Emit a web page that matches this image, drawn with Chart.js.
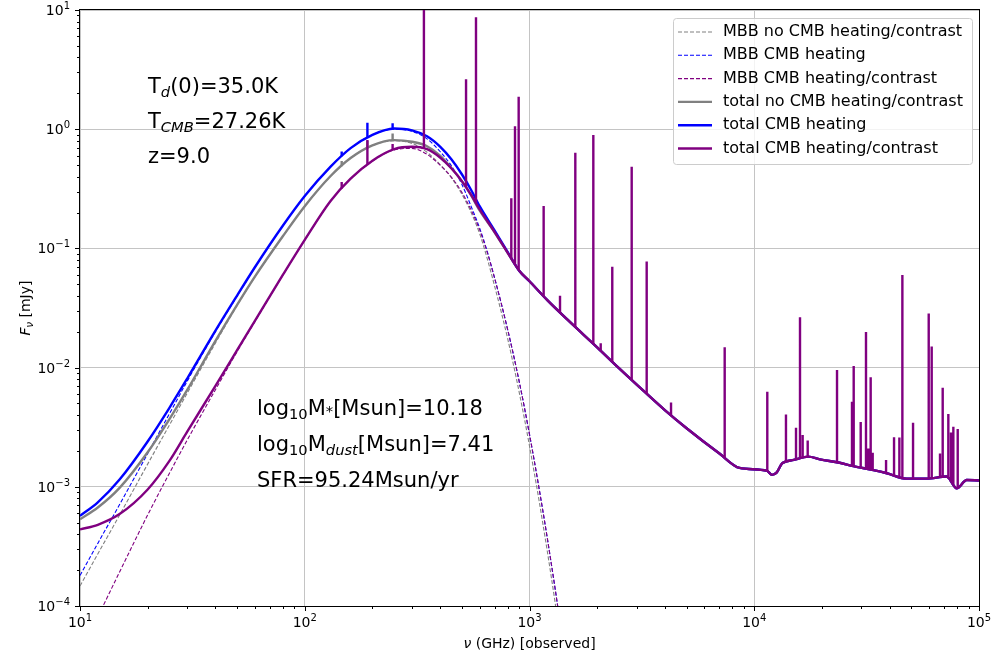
<!DOCTYPE html>
<html>
<head>
<meta charset="utf-8">
<script src="https://cdn.jsdelivr.net/npm/chart.js@4.4.0/dist/chart.umd.min.js"></script>
<style>
html, body { margin: 0; padding: 0; background: #fff; }
#wrap { width: 995px; height: 661px; }
</style>
</head>
<body>
<div id="wrap"><canvas id="sed" width="995" height="661"></canvas></div>
<script>
// axis ticks
var xTicks = [10, 100, 1000, 10000, 100000];
var yTicks = [1e-4, 1e-3, 1e-2, 1e-1, 1, 10];

// modified black body curves (GHz, mJy)
var mbbFreq = [10, 12, 15, 20, 25, 30, 40, 50, 60, 80, 100, 130, 160, 200, 250, 300, 350, 400, 450, 500, 550, 600, 650, 700, 750, 800, 850, 900, 950, 1000, 1050, 1100, 1150, 1200, 1250, 1300, 1350];
var mbbNoCmb = [1.47e-4, 2.73e-4, 5.8e-4, 1.55e-3, 3.3e-3, 6.1e-3, 0.016, 0.0332, 0.0576, 0.1266, 0.2256, 0.4022, 0.5725, 0.73, 0.80, 0.76, 0.64, 0.505, 0.39, 0.285, 0.20, 0.133, 0.081, 0.048, 0.0289, 0.0174, 0.0104, 6.2e-3, 3.7e-3, 2.2e-3, 1.31e-3, 7.9e-4, 4.75e-4, 2.88e-4, 1.75e-4, 1.07e-4, 6.5e-5];
var mbbCmbHeat = [1.8e-4, 3.35e-4, 7.1e-4, 1.9e-3, 4.1e-3, 7.7e-3, 0.0199, 0.0398, 0.0691, 0.1551, 0.2746, 0.4826, 0.6936, 0.8965, 1.0, 0.96, 0.83, 0.65, 0.49, 0.345, 0.225, 0.148, 0.093, 0.056, 0.0341, 0.02075, 0.01262, 7.63e-3, 4.59e-3, 2.75e-3, 1.656e-3, 1.0e-3, 6.08e-4, 3.71e-4, 2.27e-4, 1.4e-4, 8.6e-5];
var mbbCmbContrast = [4.0e-5, 8.1e-5, 1.93e-4, 5.8e-4, 1.3e-3, 2.47e-3, 6.5e-3, 0.0136, 0.0243, 0.0598, 0.1176, 0.248, 0.383, 0.54, 0.67, 0.69, 0.615, 0.50, 0.395, 0.295, 0.21, 0.143, 0.0913, 0.056, 0.0341, 0.02075, 0.01262, 7.63e-3, 4.59e-3, 2.75e-3, 1.656e-3, 1.0e-3, 6.08e-4, 3.71e-4, 2.27e-4, 1.4e-4, 8.6e-5];

// total SED continuum
var totFreq = [10, 12, 15, 20, 25, 30, 40, 50, 60, 80, 100, 130, 160, 200, 250, 300, 350, 400, 450, 500, 550, 600, 700, 800, 900, 1000, 1200, 1500, 2000, 2500, 3000, 4000, 5000, 7000, 8600, 11400, 12000, 12600, 13300, 15000, 17400, 19600, 24000, 27600, 33900, 38900, 47700, 58500, 71800, 79600, 88200, 100000];
var totContrast = [4.39e-4, 4.8e-4, 5.9e-4, 9.5e-4, 1.65e-3, 2.9e-3, 7.0e-3, 0.014, 0.0247, 0.0602, 0.118, 0.249, 0.385, 0.544, 0.68, 0.712, 0.68, 0.579, 0.468, 0.367, 0.281, 0.2127, 0.137, 0.0917, 0.065, 0.053, 0.0368, 0.0245, 0.0148, 0.0099, 7.2e-3, 4.4e-3, 3.1e-3, 1.9e-3, 1.44e-3, 1.36e-3, 1.26e-3, 1.32e-3, 1.57e-3, 1.68e-3, 1.79e-3, 1.70e-3, 1.59e-3, 1.49e-3, 1.38e-3, 1.30e-3, 1.17e-3, 1.17e-3, 1.22e-3, 9.7e-4, 1.14e-3, 1.13e-3];
var totHeatLow = [5.7e-4, 7.4e-4, 1.15e-3, 2.4e-3, 4.6e-3, 8.1e-3, 0.0203, 0.0402, 0.0695, 0.1555, 0.275, 0.483, 0.694, 0.897, 1.015, 0.979, 0.872, 0.714, 0.557, 0.419, 0.309, 0.226, 0.141, 0.093];
var totNoCmbLow = [5.33e-4, 6.7e-4, 9.8e-4, 1.95e-3, 3.7e-3, 6.5e-3, 0.0167, 0.0336, 0.058, 0.127, 0.226, 0.4027, 0.573, 0.732, 0.81, 0.785, 0.72, 0.60, 0.47, 0.367, 0.278, 0.208, 0.136];

// emission lines: frequency, continuum at the line, line peak
var contrastLineFreq = [146, 190, 246, 339, 522, 578, 830, 862, 895, 1156, 1367, 1599, 1923, 2074, 2335, 2849, 3322, 4263, 7387, 11430, 13840, 15340, 15980, 16420, 17290, 23350, 27220, 27700, 29760, 31420, 32180, 32960, 33650, 38590, 41880, 44230, 45610, 50880, 59740, 61590, 67070, 68940, 73040, 75070, 76890, 80410];
var contrastLineBase = [0.318, 0.503, 0.67, 0.69, 0.325, 0.24, 0.082, 0.074, 0.066, 0.0395, 0.029, 0.0219, 0.01585, 0.0139, 0.0112, 0.0079, 6.05e-3, 4.0e-3, 1.77e-3, 1.36e-3, 1.6e-3, 1.69e-3, 1.72e-3, 1.74e-3, 1.78e-3, 1.6e-3, 1.5e-3, 1.49e-3, 1.45e-3, 1.42e-3, 1.40e-3, 1.39e-3, 1.38e-3, 1.30e-3, 1.25e-3, 1.22e-3, 1.20e-3, 1.17e-3, 1.17e-3, 1.18e-3, 1.2e-3, 1.21e-3, 1.17e-3, 1.1e-3, 1.05e-3, 0.99e-3];
var contrastLinePeak = [0.36, 0.81, 0.75, 12, 2.62, 8.68, 0.263, 1.06, 1.87, 0.227, 0.0401, 0.635, 0.894, 0.0160, 0.0703, 0.485, 0.0775, 5.1e-3, 0.0148, 6.28e-3, 4.05e-3, 3.13e-3, 0.0264, 2.72e-3, 2.44e-3, 9.55e-3, 5.18e-3, 0.0103, 3.5e-3, 0.0199, 2.1e-3, 8.28e-3, 1.93e-3, 1.68e-3, 2.6e-3, 2.59e-3, 0.0598, 3.45e-3, 0.0285, 0.015, 1.9e-3, 6.78e-3, 4.08e-3, 2.85e-3, 3.19e-3, 3.05e-3];
var heatLineFreq = [146, 190, 246];
var heatLineBase = [0.592, 0.846, 1.01];
var heatLinePeak = [0.65, 1.13, 1.12];
var noCmbLineFreq = [146, 190, 246];
var noCmbLineBase = [0.49, 0.692, 0.805];
var noCmbLinePeak = [0.54, 0.80, 0.92];

var GRAY = "#808080", BLUE = "#0000ff", PURPLE = "#800080";
var FONT = '"DejaVu Sans", sans-serif';

function pts(xs, ys) {
    return xs.map(function (x, i) { return { x: x, y: ys[i] }; });
}
function spikes(xs, base, peak) {
    var out = [];
    xs.forEach(function (x, i) {
        out.push({ x: x, y: base[i] }, { x: x, y: peak[i] }, { x: x, y: null });
    });
    return out;
}
function curve(label, data, color, width, dash, order) {
    return {
        label: label, data: data, borderColor: color, borderWidth: width, borderDash: dash,
        cubicInterpolationMode: "monotone", fill: false, pointRadius: 0, order: order, clip: 0,
        borderJoinStyle: "round"
    };
}
function lines(data, color, order) {
    return { data: data, borderColor: color, borderWidth: 2.4, tension: 0, fill: false, pointRadius: 0, order: order, clip: 0, spanGaps: false };
}

// text made of runs, some of them subscript / italic
function drawRuns(ctx, runs, x, y, size) {
    runs.forEach(function (r) {
        var s = r.sub ? size * 0.7 : size;
        ctx.font = (r.it ? "italic " : "") + s + "px " + FONT;
        var dy = r.sub ? size * 0.19 : 0;
        if (r.dy) dy += r.dy * size;
        ctx.fillText(r.t, x, y + dy);
        x += ctx.measureText(r.t).width;
    });
    return x;
}
function runsWidth(ctx, runs, size) {
    var w = 0;
    runs.forEach(function (r) {
        ctx.font = (r.it ? "italic " : "") + (r.sub ? size * 0.7 : size) + "px " + FONT;
        w += ctx.measureText(r.t).width;
    });
    return w;
}
function powLabel(ctx, v, x, y, align) {
    var e = Math.round(Math.log10(v));
    var ex = e < 0 ? "\u2212" + Math.abs(e) : String(e);
    ctx.font = "14px " + FONT;
    var w1 = ctx.measureText("10").width;
    ctx.font = "10px " + FONT;
    var w2 = ctx.measureText(ex).width;
    var x0 = align === "right" ? x - w1 - w2 : x - (w1 + w2) / 2;
    ctx.font = "14px " + FONT;
    ctx.fillText("10", x0, y);
    ctx.font = "10px " + FONT;
    ctx.fillText(ex, x0 + w1, y - 6);
}
function minorValues(min, max) {
    var out = [];
    for (var d = min; d < max; d *= 10) {
        for (var k = 2; k <= 9; k++) out.push(d * k);
    }
    return out;
}

var annotations = [
    { x: 148, y: 93, runs: [{ t: "T" }, { t: "d", sub: true, it: true }, { t: "(0)=35.0K" }] },
    { x: 148, y: 128, runs: [{ t: "T" }, { t: "CMB", sub: true, it: true }, { t: "=27.26K" }] },
    { x: 148, y: 163, runs: [{ t: "z=9.0" }] },
    { x: 257, y: 415, runs: [{ t: "log" }, { t: "10", sub: true }, { t: "M" }, { t: "*", sub: true, dy: -0.12 }, { t: "[Msun]=10.18" }] },
    { x: 257, y: 451, runs: [{ t: "log" }, { t: "10", sub: true }, { t: "M" }, { t: "dust", sub: true, it: true }, { t: "[Msun]=7.41" }] },
    { x: 257, y: 487, runs: [{ t: "SFR=95.24Msun/yr" }] }
];

var decor = {
    id: "decor",
    afterDatasetsDraw: function (chart) {
        var ctx = chart.ctx, a = chart.chartArea;
        ctx.save();
        ctx.strokeStyle = "#000";
        ctx.lineWidth = 1;
        ctx.strokeRect(a.left - 0.5, a.top - 0.5, a.right - a.left + 1, a.bottom - a.top + 1);
        ctx.restore();
    },
    afterDraw: function (chart) {
        var ctx = chart.ctx, a = chart.chartArea, xs = chart.scales.x, ys = chart.scales.y;
        ctx.save();
        ctx.strokeStyle = "#000";
        ctx.lineWidth = 1;
        ctx.beginPath();
        xTicks.forEach(function (v) {
            var px = Math.round(xs.getPixelForValue(v)) + 0.5;
            ctx.moveTo(px, a.bottom); ctx.lineTo(px, a.bottom + 5);
        });
        minorValues(xTicks[0], xTicks[xTicks.length - 1]).forEach(function (v) {
            var px = Math.round(xs.getPixelForValue(v)) + 0.5;
            ctx.moveTo(px, a.bottom); ctx.lineTo(px, a.bottom + 3);
        });
        yTicks.forEach(function (v) {
            var py = Math.round(ys.getPixelForValue(v)) + 0.5;
            ctx.moveTo(a.left, py); ctx.lineTo(a.left - 5, py);
        });
        minorValues(yTicks[0], yTicks[yTicks.length - 1]).forEach(function (v) {
            var py = Math.round(ys.getPixelForValue(v)) + 0.5;
            ctx.moveTo(a.left, py); ctx.lineTo(a.left - 3, py);
        });
        ctx.stroke();

        ctx.fillStyle = "#000";
        ctx.textBaseline = "alphabetic";
        ctx.textAlign = "left";
        xTicks.forEach(function (v) { powLabel(ctx, v, xs.getPixelForValue(v), a.bottom + 21, "center"); });
        yTicks.forEach(function (v) { powLabel(ctx, v, a.left - 10, ys.getPixelForValue(v) + 5, "right"); });

        // axis titles
        var xt = [{ t: "\u03bd", it: true }, { t: " (GHz) [observed]" }];
        drawRuns(ctx, xt, (a.left + a.right) / 2 - runsWidth(ctx, xt, 14) / 2, 648, 14);
        var yt = [{ t: "F", it: true }, { t: "\u03bd", it: true, sub: true }, { t: " [mJy]" }];
        ctx.save();
        ctx.translate(30, (a.top + a.bottom) / 2);
        ctx.rotate(-Math.PI / 2);
        drawRuns(ctx, yt, -runsWidth(ctx, yt, 14) / 2, 0, 14);
        ctx.restore();

        annotations.forEach(function (n) { drawRuns(ctx, n.runs, n.x, n.y, 21); });

        // legend box
        var lx = 673, ly = 18, lw = 299, lh = 146;
        ctx.beginPath();
        ctx.roundRect(lx + 0.5, ly + 0.5, lw, lh, 3);
        ctx.fillStyle = "rgba(255,255,255,0.8)";
        ctx.fill();
        ctx.strokeStyle = "#cccccc";
        ctx.stroke();
        var row = 0;
        chart.data.datasets.forEach(function (ds) {
            if (!ds.label) return;
            var cy = ly + 14 + row * 23.3;
            ctx.beginPath();
            ctx.setLineDash(ds.borderDash || []);
            ctx.strokeStyle = ds.borderColor;
            ctx.lineWidth = ds.borderWidth;
            ctx.moveTo(678, cy); ctx.lineTo(712, cy);
            ctx.stroke();
            ctx.setLineDash([]);
            ctx.fillStyle = "#000";
            ctx.font = "16px " + FONT;
            ctx.textBaseline = "middle";
            ctx.fillText(ds.label, 723, cy);
            row++;
        });
        ctx.restore();
    }
};

var heatTotal = totHeatLow.concat(totContrast.slice(totHeatLow.length));
var noCmbTotal = totNoCmbLow.concat(totContrast.slice(totNoCmbLow.length));

new Chart(document.getElementById("sed"), {
    type: "line",
    data: {
        datasets: [
            curve("MBB no CMB heating/contrast", pts(mbbFreq, mbbNoCmb), GRAY, 1.1, [4, 2], 8),
            curve("MBB CMB heating", pts(mbbFreq, mbbCmbHeat), BLUE, 1.1, [4, 2], 7),
            curve("MBB CMB heating/contrast", pts(mbbFreq, mbbCmbContrast), PURPLE, 1.1, [4, 2], 6),
            curve("total no CMB heating/contrast", pts(totFreq, noCmbTotal), GRAY, 2.4, [], 5),
            curve("total CMB heating", pts(totFreq, heatTotal), BLUE, 2.4, [], 3),
            curve("total CMB heating/contrast", pts(totFreq, totContrast), PURPLE, 2.4, [], 1),
            lines(spikes(noCmbLineFreq, noCmbLineBase, noCmbLinePeak), GRAY, 4),
            lines(spikes(heatLineFreq, heatLineBase, heatLinePeak), BLUE, 2),
            lines(spikes(contrastLineFreq, contrastLineBase, contrastLinePeak), PURPLE, 0)
        ]
    },
    options: {
        responsive: false,
        animation: false,
        devicePixelRatio: 1,
        events: [],
        layout: { padding: { left: 0, right: 16, top: 10, bottom: 0 } },
        plugins: { legend: { display: false }, tooltip: { enabled: false } },
        scales: {
            x: {
                type: "logarithmic", min: 10, max: 1e5,
                afterBuildTicks: function (s) { s.ticks = xTicks.map(function (v) { return { value: v }; }); },
                afterFit: function (s) { s.height = 55; },
                ticks: { display: false },
                grid: { color: "#c4c4c4", lineWidth: 1, drawTicks: false },
                border: { display: false }
            },
            y: {
                type: "logarithmic", min: 1e-4, max: 10,
                afterBuildTicks: function (s) { s.ticks = yTicks.map(function (v) { return { value: v }; }); },
                afterFit: function (s) { s.width = 80; },
                ticks: { display: false },
                grid: { color: "#c4c4c4", lineWidth: 1, drawTicks: false },
                border: { display: false }
            }
        }
    },
    plugins: [decor]
});
</script>
</body>
</html>
